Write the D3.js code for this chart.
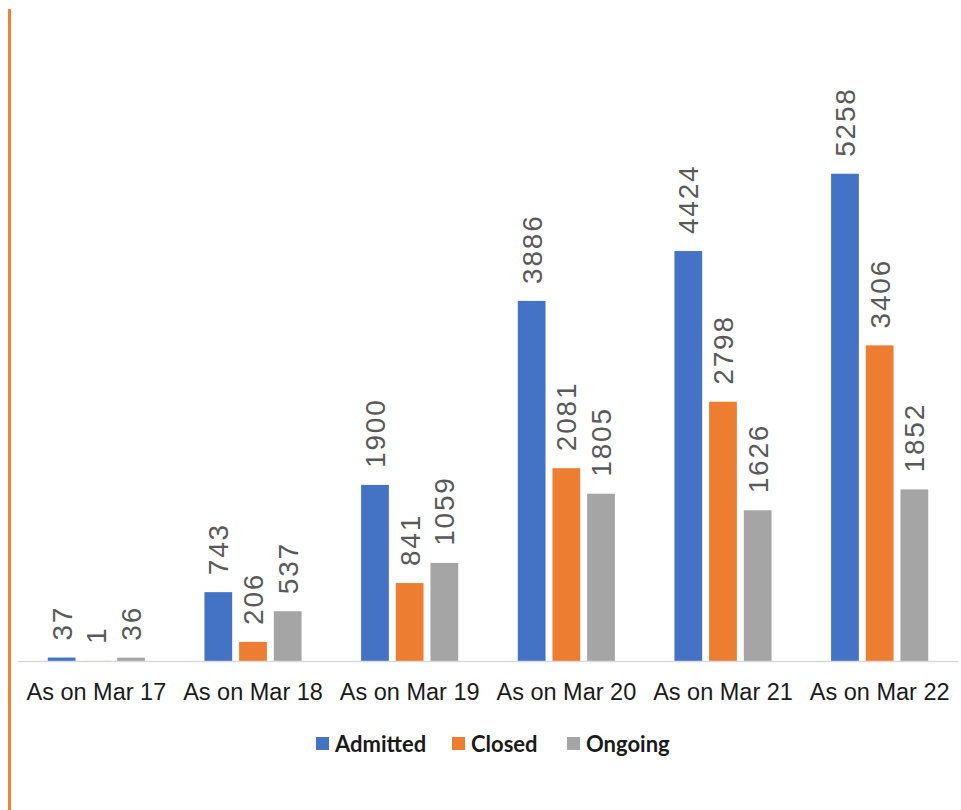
<!DOCTYPE html>
<html>
<head>
<meta charset="utf-8">
<script src="https://cdn.jsdelivr.net/npm/d3@7/dist/d3.min.js"></script>
<style>
  html, body { margin: 0; padding: 0; background: #fff; }
  svg { display: block; }
</style>
</head>
<body>
<svg id="chart" width="961" height="810"></svg>
<script>
// Daily case counts by status
const categories = ["As on Mar 17", "As on Mar 18", "As on Mar 19", "As on Mar 20", "As on Mar 21", "As on Mar 22"];
const seriesNames = ["Admitted", "Closed", "Ongoing"];
const admitted = [37, 743, 1900, 3886, 4424, 5258];
const closed = [1, 206, 841, 2081, 2798, 3406];
const ongoing = [36, 537, 1059, 1805, 1626, 1852];
const seriesColors = ["#4472C4", "#ED7D31", "#A5A5A5"];

const seriesValues = [admitted, closed, ongoing];
const rows = categories.map((c, i) => ({
  category: c,
  values: seriesNames.map((s, j) => ({ series: s, value: seriesValues[j][i], color: seriesColors[j] }))
}));

const svg = d3.select("#chart");

// accent rule along the left edge
svg.append("rect")
  .attr("x", 8).attr("y", 9).attr("width", 3).attr("height", 801)
  .attr("fill", "#F4812F");

const x0 = d3.scaleBand()
  .domain(categories)
  .range([18, 958])
  .paddingInner(0.38)
  .paddingOuter(0.19);

const x1 = d3.scaleBand()
  .domain(seriesNames)
  .range([0, x0.bandwidth()])
  .paddingInner(0.2);

const y = d3.scaleLinear()
  .domain([0, 6000])
  .range([661, 105]);

// bars
const groups = svg.append("g").selectAll("g")
  .data(rows)
  .join("g")
  .attr("transform", d => `translate(${x0(d.category)},0)`);

groups.selectAll("rect")
  .data(d => d.values)
  .join("rect")
  .attr("x", d => x1(d.series))
  .attr("y", d => y(d.value))
  .attr("width", x1.bandwidth())
  .attr("height", d => y(0) - y(d.value))
  .attr("fill", d => d.color);

// rotated value labels
groups.selectAll("text")
  .data(d => d.values)
  .join("text")
  .attr("transform", d => `translate(${x1(d.series) + x1.bandwidth() / 2},${y(d.value) - 17}) rotate(-90)`)
  .attr("dy", "0.36em")
  .attr("text-anchor", "start")
  .attr("font-family", "'Liberation Sans', Arial, sans-serif")
  .attr("font-size", 28)
  .attr("letter-spacing", 1.8)
  .attr("fill", "#595959")
  .text(d => d.value);

// category axis
const xAxis = svg.append("g")
  .attr("transform", `translate(0,${y(0)})`)
  .call(d3.axisBottom(x0).tickSize(0).tickPadding(22));
xAxis.select(".domain")
  .attr("d", "M18,0.5H958")
  .attr("stroke", "#D9D9D9")
  .attr("stroke-width", 1.5);
xAxis.selectAll("text")
  .attr("font-family", "'Liberation Sans', Arial, sans-serif")
  .attr("font-size", 23.5)
  .attr("fill", "#1a1a1a");

// legend
const legendItems = [
  { name: "Admitted", x: 316, color: seriesColors[0] },
  { name: "Closed", x: 452, color: seriesColors[1] },
  { name: "Ongoing", x: 567, color: seriesColors[2] }
];
const legend = svg.append("g").selectAll("g")
  .data(legendItems)
  .join("g")
  .attr("transform", d => `translate(${d.x},737)`);
legend.append("rect")
  .attr("width", 13).attr("height", 13)
  .attr("fill", d => d.color);
legend.append("text")
  .attr("x", 19).attr("y", 15)
  .attr("font-family", "Lato, 'Open Sans', sans-serif")
  .attr("font-weight", "bold")
  .attr("font-size", 22)
  .attr("fill", "#1a1a1a")
  .text(d => d.name);
</script>
</body>
</html>
